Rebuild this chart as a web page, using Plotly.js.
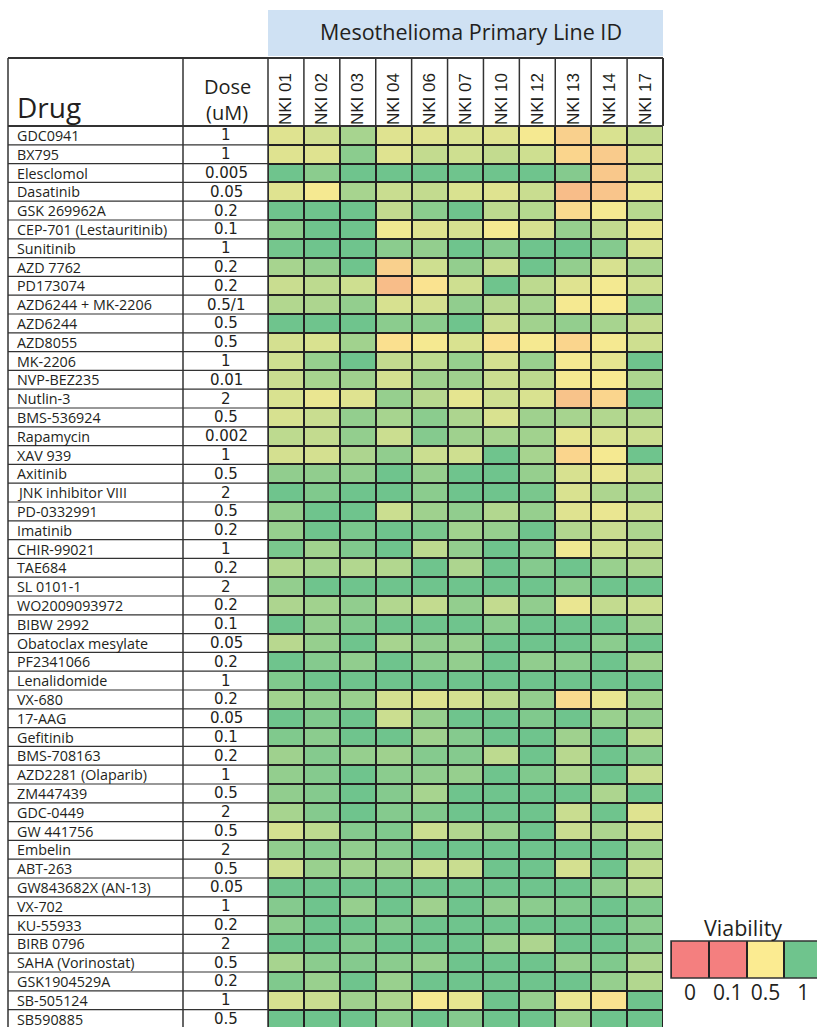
<!DOCTYPE html>
<html>
<head>
<meta charset="utf-8">
<script src="https://cdn.plot.ly/plotly-3.0.1.min.js"></script>
<style>
html,body{margin:0;padding:0;background:#fff;}
#chart{width:817px;height:1027px;}
</style>
</head>
<body>
<div id="chart"></div>
<script>
const drugs = ["GDC0941","BX795","Elesclomol","Dasatinib","GSK 269962A","CEP-701 (Lestauritinib)","Sunitinib","AZD 7762","PD173074","AZD6244 + MK-2206","AZD6244","AZD8055","MK-2206","NVP-BEZ235","Nutlin-3","BMS-536924","Rapamycin","XAV 939","Axitinib","JNK inhibitor VIII","PD-0332991","Imatinib","CHIR-99021","TAE684","SL 0101-1","WO2009093972","BIBW 2992","Obatoclax mesylate","PF2341066","Lenalidomide","VX-680","17-AAG","Gefitinib","BMS-708163","AZD2281 (Olaparib)","ZM447439","GDC-0449","GW 441756","Embelin","ABT-263","GW843682X (AN-13)","VX-702","KU-55933","BIRB 0796","SAHA (Vorinostat)","GSK1904529A","SB-505124","SB590885"];
const doses = ["1","1","0.005","0.05","0.2","0.1","1","0.2","0.2","0.5/1","0.5","0.5","1","0.01","2","0.5","0.002","1","0.5","2","0.5","0.2","1","0.2","2","0.2","0.1","0.05","0.2","1","0.2","0.05","0.1","0.2","1","0.5","2","0.5","2","0.5","0.05","1","0.2","2","0.5","0.2","1","0.5"];
const cellLines = ["NKI 01","NKI 02","NKI 03","NKI 04","NKI 06","NKI 07","NKI 10","NKI 12","NKI 13","NKI 14","NKI 17"];
const viability = [
 [0.6,0.65,0.8,0.6,0.6,0.62,0.6,0.52,0.4,0.62,0.7],
 [0.6,0.6,0.9,0.6,0.7,0.66,0.7,0.66,0.42,0.38,0.66],
 [1,0.9,1,1,1,1,1,1,0.92,0.37,0.67],
 [0.6,0.52,0.8,0.68,0.7,0.62,0.6,0.68,0.33,0.36,0.57],
 [1,1,1,0.7,0.9,1,0.72,0.75,0.44,0.52,0.74],
 [0.9,1,1,0.54,0.6,0.63,0.52,0.63,0.86,0.7,0.56],
 [0.98,1,1,0.9,0.87,1,0.92,1,1,0.92,0.62],
 [0.8,0.87,1,0.4,0.66,0.87,0.68,1,0.87,0.63,0.8],
 [0.68,0.72,0.66,0.33,0.47,0.66,1,0.72,0.6,0.53,0.66],
 [0.76,0.78,0.87,0.63,0.64,0.88,0.74,0.8,0.52,0.51,0.9],
 [1,1,1,0.9,0.9,1,0.68,0.82,0.87,0.8,0.7],
 [0.64,0.62,0.82,0.46,0.52,0.62,0.46,0.52,0.42,0.52,0.66],
 [0.66,0.86,1,0.7,0.72,0.86,0.64,0.85,0.52,0.58,1],
 [0.68,0.8,0.83,0.64,0.83,0.83,0.67,0.72,0.52,0.51,0.78],
 [0.62,0.56,0.6,0.86,0.74,0.58,0.66,0.62,0.35,0.42,1],
 [0.63,0.68,0.87,0.8,0.9,0.78,0.62,0.83,0.8,0.76,0.76],
 [0.72,0.7,0.87,0.67,0.92,0.83,0.8,0.82,0.58,0.62,0.67],
 [0.64,0.64,0.78,0.88,0.67,0.66,1,0.8,0.42,0.52,1],
 [0.88,0.88,0.88,1,0.86,1,1,0.86,0.63,0.56,0.7],
 [1,0.94,1,1,0.9,1,1,0.96,0.62,0.78,0.8],
 [0.87,1,1,0.67,0.83,0.88,0.76,0.86,0.6,0.56,0.66],
 [0.86,1,0.96,1,0.96,0.82,0.86,1,0.76,0.68,0.78],
 [0.96,0.82,0.94,1,0.72,0.87,1,0.92,0.54,0.66,0.7],
 [0.76,0.8,0.76,0.76,1,0.78,1,0.92,1,0.85,0.78],
 [0.87,1,1,1,1,1,1,1,0.9,1,1],
 [0.78,0.82,0.88,0.76,0.7,0.87,0.7,0.88,0.56,0.7,0.67],
 [1,0.87,0.94,1,1,1,0.9,1,1,1,0.83],
 [0.74,0.86,1,0.8,0.88,0.86,1,1,1,0.9,1],
 [1,0.92,0.88,1,0.9,0.87,1,0.88,0.9,1,0.83],
 [0.94,1,1,1,1,1,1,1,1,1,1],
 [0.82,0.87,0.85,0.64,0.6,0.64,0.72,0.87,0.44,0.56,0.82],
 [1,0.94,1,0.67,0.86,1,1,0.94,1,0.85,0.87],
 [0.94,0.9,1,1,0.83,0.92,1,1,0.83,1,0.72],
 [0.83,0.92,0.86,0.83,0.92,0.92,0.72,1,0.74,1,0.92],
 [0.87,0.92,1,0.9,0.88,0.86,1,0.94,0.78,1,0.68],
 [0.88,0.92,1,0.92,0.8,1,1,1,1,0.78,1],
 [0.8,0.92,1,0.92,0.94,1,1,1,0.68,1,0.6],
 [0.64,0.72,0.92,0.94,0.67,0.76,0.85,1,0.68,0.78,0.64],
 [0.88,0.92,0.88,0.92,1,1,1,1,1,1,0.85],
 [0.66,0.85,0.82,0.83,0.67,0.68,1,1,0.64,1,0.7],
 [1,1,1,1,1,1,1,1,1,0.88,0.76],
 [0.92,1,0.86,1,0.83,1,0.88,0.9,0.94,1,0.94],
 [0.9,1,1,0.92,1,1,1,1,1,1,0.9],
 [1,1,0.94,1,1,1,0.85,0.78,1,1,0.92],
 [0.8,0.9,0.92,0.9,0.86,1,1,1,0.86,0.94,0.78],
 [0.94,0.85,1,0.85,1,1,1,1,1,0.86,0.76],
 [0.63,0.68,0.83,0.78,0.52,0.58,1,0.86,0.56,0.47,1],
 [1,1,1,0.9,1,0.92,1,1,0.85,1,1]
];
const legendValues = [0, 0.1, 0.5, 1];
const legendLabels = ["0", "0.1", "0.5", "1"];

const W = 817, H = 1027;
const px = x => x / W;
const py = y => 1 - y / H;
const FONT = "Open Sans, Noto Sans, sans-serif";
const NUMFONT = "DejaVu Sans, sans-serif";
const COLFONT = "Liberation Sans, Arial, sans-serif";
const TXT = "#231f20";
const LINE = "#333333";

const colorscale = [[0, "#F47F7F"], [0.1, "#F47F7F"], [0.5, "#FBEB91"], [1, "#6FC48D"]];

const rowH = 18.8, tableTop = 126;
const visibleRows = (H - tableTop) / rowH;
const legendCell = 37.8;

const heat = {
  type: "heatmap", x: cellLines, y: drugs, z: viability,
  zmin: 0, zmax: 1, colorscale: colorscale, showscale: false,
  xgap: 2, ygap: 2, xaxis: "x", yaxis: "y",
  hovertemplate: "%{y} / %{x}: %{z}<extra></extra>"
};
const legendHeat = {
  type: "heatmap", x: legendLabels, y: ["Viability"], z: [legendValues],
  zmin: 0, zmax: 1, colorscale: colorscale, showscale: false,
  xgap: 2, ygap: 0, xaxis: "x2", yaxis: "y2", hoverinfo: "skip"
};

const shapes = [];
const annotations = [];
// header blue box
shapes.push({type: "rect", xref: "paper", yref: "paper", x0: px(268), x1: px(663), y0: py(56), y1: py(10), fillcolor: "#CFE1F3", line: {width: 0}, layer: "below"});
annotations.push({xref: "paper", yref: "paper", x: px(471), y: py(32), text: "Mesothelioma Primary Line ID", showarrow: false, font: {family: FONT, size: 21.5, color: TXT}, xanchor: "center", yanchor: "middle"});
// table frame
shapes.push({type: "line", xref: "paper", yref: "paper", x0: px(8), x1: px(663), y0: py(58), y1: py(58), line: {color: LINE, width: 2}});
shapes.push({type: "line", xref: "paper", yref: "paper", x0: px(8), x1: px(663), y0: py(126), y1: py(126), line: {color: LINE, width: 2}});
[8, 183, 268].forEach(x => shapes.push({type: "line", xref: "paper", yref: "paper", x0: px(x), x1: px(x), y0: py(58), y1: 0, line: {color: LINE, width: 1.5}}));
shapes.push({type: "line", xref: "paper", yref: "paper", x0: px(663), x1: px(663), y0: py(58), y1: py(126), line: {color: LINE, width: 2}});
// column dividers in header
for (let i = 1; i < cellLines.length; i++) {
  shapes.push({type: "line", xref: "x", yref: "paper", x0: i - 0.5, x1: i - 0.5, y0: py(126), y1: py(58), line: {color: LINE, width: 1.5}});
}
// header texts
annotations.push({xref: "paper", yref: "paper", x: px(16), y: py(127), text: "Drug", showarrow: false, font: {family: FONT, size: 28, color: TXT}, xanchor: "left", yanchor: "bottom", borderpad: 0});
annotations.push({xref: "paper", yref: "paper", x: px(227), y: py(87), text: "Dose", showarrow: false, font: {family: FONT, size: 20, color: TXT}, xanchor: "center", yanchor: "middle"});
annotations.push({xref: "paper", yref: "paper", x: px(227), y: py(112), text: "(uM)", showarrow: false, font: {family: FONT, size: 20, color: TXT}, xanchor: "center", yanchor: "middle"});
// rows: drug names, doses, separators
drugs.forEach((d, i) => {
  annotations.push({xref: "paper", yref: "y", x: px(16), y: d, text: d, showarrow: false, font: {family: FONT, size: 14.3, color: TXT}, xanchor: "left", yanchor: "middle", borderpad: 0});
  annotations.push({xref: "paper", yref: "y", x: px(226), y: d, text: doses[i], showarrow: false, font: {family: NUMFONT, size: 15, color: TXT}, xanchor: "center", yanchor: "middle", borderpad: 0});
  shapes.push({type: "line", xref: "paper", yref: "y", x0: px(8), x1: px(268), y0: i + 0.5, y1: i + 0.5, line: {color: LINE, width: 1.2}});
});
// legend title
annotations.push({xref: "paper", yref: "paper", x: px(743), y: py(927), text: "Viability", showarrow: false, font: {family: FONT, size: 21.5, color: TXT}, xanchor: "center", yanchor: "middle"});
shapes.push({type: "rect", xref: "paper", yref: "paper", x0: px(671), x1: 1.01, y0: py(978), y1: py(941), line: {color: LINE, width: 1.5}, fillcolor: "rgba(0,0,0,0)"});

const layout = {
  width: W, height: H,
  margin: {l: 0, r: 0, t: 0, b: 0},
  paper_bgcolor: "#ffffff",
  plot_bgcolor: "#222222",
  showlegend: false,
  font: {family: FONT, color: TXT},
  xaxis: {domain: [px(268), px(663)], side: "top", tickangle: -90, ticks: "", showgrid: false, zeroline: false, showline: false,
          tickfont: {family: COLFONT, size: 17, color: TXT}, anchor: "y", type: "category", range: [-0.5, cellLines.length - 0.5], fixedrange: true},
  yaxis: {domain: [0, py(tableTop)], type: "category", range: [visibleRows - 0.5, -0.5], showticklabels: false, ticks: "", showgrid: false, zeroline: false, anchor: "x", fixedrange: true},
  xaxis2: {domain: [px(671), 1], type: "category", range: [-0.5, -0.5 + (W - 671) / legendCell], anchor: "y2", side: "bottom", ticks: "", showgrid: false, zeroline: false,
           tickfont: {family: FONT, size: 21, color: TXT}, fixedrange: true},
  yaxis2: {domain: [py(978), py(941)], type: "category", range: [-0.5, 0.5], showticklabels: false, ticks: "", showgrid: false, zeroline: false, anchor: "x2", fixedrange: true},
  shapes: shapes,
  annotations: annotations
};

Plotly.newPlot("chart", [heat, legendHeat], layout, {displayModeBar: false, staticPlot: true});
</script>
</body>
</html>
